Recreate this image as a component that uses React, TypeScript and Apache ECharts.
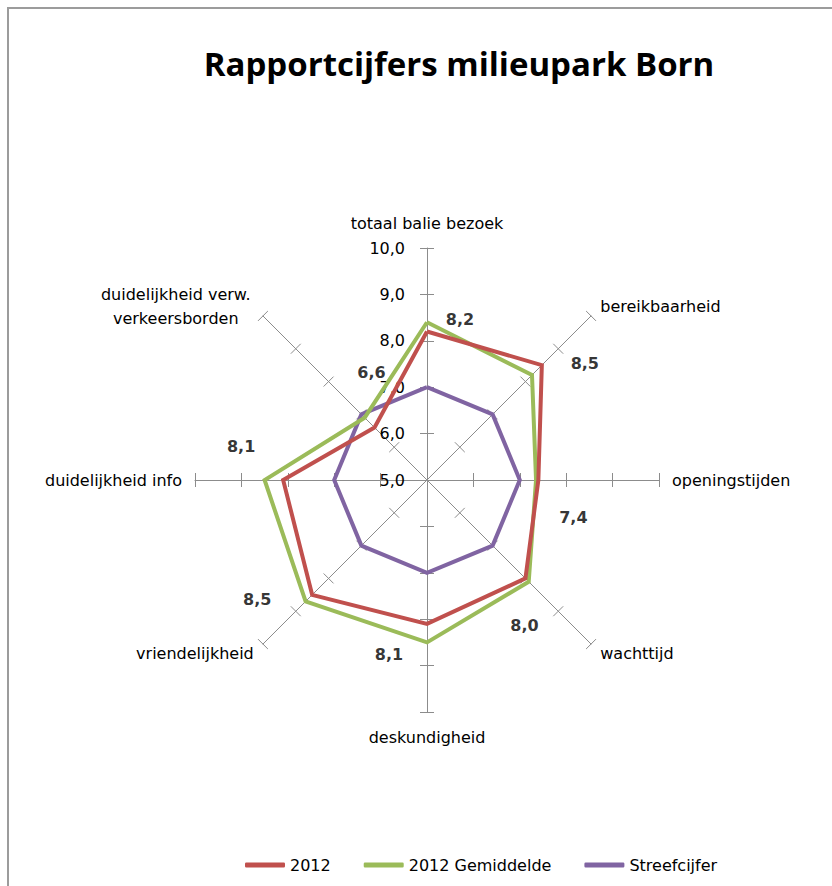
import React, { useEffect, useRef } from 'react';
import * as echarts from 'echarts';

// Rating categories, listed clockwise starting at the top spoke
const categories = [
  'totaal balie bezoek',
  'bereikbaarheid',
  'openingstijden',
  'wachttijd',
  'deskundigheid',
  'vriendelijkheid',
  'duidelijkheid info',
  'duidelijkheid verw.\nverkeersborden',
];

const scores2012 = [8.2, 8.5, 7.4, 8.0, 8.1, 8.5, 8.1, 6.6];
const average2012 = [8.4, 8.2, 7.35, 8.1, 8.5, 8.7, 8.5, 6.9];
const targetScores = [7.0, 7.0, 7.0, 7.0, 7.0, 7.0, 7.0, 7.0];

const seriesNames = ['2012', '2012 Gemiddelde', 'Streefcijfer'];
const seriesColors = ['#C0504D', '#9BBB59', '#8064A2'];

const scaleMin = 5;
const scaleMax = 10;
const scaleSplits = 5;

// Offsets of the value labels from their vertex, per category
const labelOffsets: [number, number][] = [
  [33, -12],
  [43, -2],
  [35, 37],
  [-1, 47],
  [-38, 31],
  [-55, 5],
  [-42, -34],
  [-3, -55],
];

const CENTER: [number, number] = [427, 480];
const RADIUS = 232;
const TEXT_FONT = '"DejaVu Sans", sans-serif';

const fmt = (v: number) => Number(v).toFixed(1).replace('.', ',');

// radar indicators run counter-clockwise, so reorder the clockwise list
const radarOrder = [0, 7, 6, 5, 4, 3, 2, 1];
const toRadar = (arr: number[]) => radarOrder.map((k) => arr[k]);

export default function App() {
  const ref = useRef<HTMLDivElement>(null);

  useEffect(() => {
    document.body.style.margin = '0';
    if (!ref.current) return;
    const chart = echarts.init(ref.current, undefined, { renderer: 'svg' });

    const axisGray = '#8c8c8c';
    const baseRadar = {
      center: CENTER,
      radius: RADIUS,
      startAngle: 90,
      splitNumber: scaleSplits,
      shape: 'polygon',
      splitLine: { show: false },
      splitArea: { show: false },
    };

    const option = {
      animation: false,
      backgroundColor: '#ffffff',
      title: {
        text: 'Rapportcijfers milieupark Born',
        left: 454,
        textAlign: 'center',
        top: 42,
        textStyle: {
          fontFamily: '"Open Sans", sans-serif',
          fontWeight: 'bold',
          fontSize: 33,
          color: '#000',
        },
      },
      legend: {
        data: seriesNames,
        left: 240,
        top: 852,
        icon: 'roundRect',
        itemWidth: 40,
        itemHeight: 5,
        itemGap: 33,
        textStyle: { fontFamily: TEXT_FONT, fontSize: 16, color: '#000' },
      },
      graphic: [
        {
          type: 'rect',
          shape: { x: 8, y: 8, width: 900, height: 900 },
          style: { fill: 'none', stroke: '#9c9c9c', lineWidth: 2 },
          silent: true,
          z: -1,
        },
      ],
      radar: [
        {
          ...baseRadar,
          indicator: radarOrder.map((k, j) => ({
            name: categories[k],
            min: scaleMin,
            max: scaleMax,
            axisLabel: { show: j === 0 },
          })),
          nameGap: 13,
          axisName: {
            color: '#000',
            fontFamily: TEXT_FONT,
            fontSize: 16,
            lineHeight: 24,
            formatter: (name: string) =>
              name.includes('\n')
                ? name
                    .split('\n')
                    .map((line) => `{c|${line}}`)
                    .join('\n')
                : name,
            rich: {
              c: {
                width: 156,
                align: 'center',
                color: '#000',
                fontFamily: TEXT_FONT,
                fontSize: 16,
                lineHeight: 24,
              },
            },
          },
          axisLine: { show: true, lineStyle: { color: axisGray, width: 1 } },
          axisTick: { show: true, length: 7, lineStyle: { color: axisGray, width: 1 } },
          axisLabel: {
            show: true,
            formatter: (v: number) => fmt(v),
            color: '#000',
            fontFamily: TEXT_FONT,
            fontSize: 16,
            margin: 22,
          },
        },
        {
          // second set of ticks on the opposite side, so each tick crosses its spoke
          ...baseRadar,
          indicator: radarOrder.map((k) => ({
            name: categories[k],
            min: scaleMin,
            max: scaleMax,
          })),
          axisName: { show: false },
          axisLine: { show: false },
          axisLabel: { show: false },
          axisTick: { show: true, length: -7, lineStyle: { color: axisGray, width: 1 } },
        },
      ],
      polar: { center: CENTER, radius: RADIUS },
      angleAxis: {
        type: 'category',
        data: categories,
        startAngle: 90,
        clockwise: true,
        boundaryGap: false,
        show: false,
      },
      radiusAxis: { type: 'value', min: scaleMin, max: scaleMax, show: false },
      series: [
        ...[scores2012, average2012, targetScores].map((vals, s) => ({
          type: 'radar',
          radarIndex: 0,
          name: seriesNames[s],
          symbol: 'none',
          z: 3 - s,
          itemStyle: { color: seriesColors[s] },
          lineStyle: { color: seriesColors[s], width: 4, join: 'miter' },
          data: [{ name: seriesNames[s], value: toRadar(vals) }],
        })),
        {
          type: 'scatter',
          name: 'waarden',
          coordinateSystem: 'polar',
          symbolSize: 1,
          itemStyle: { color: 'rgba(0,0,0,0)' },
          z: 10,
          label: {
            show: true,
            position: 'inside',
            formatter: (p: any) => fmt(p.value[0]),
            color: '#000',
            fontFamily: TEXT_FONT,
            fontWeight: 'bold',
            fontSize: 16,
          },
          data: scores2012.map((v, i) => ({
            value: [v, i],
            label: { offset: labelOffsets[i] },
          })),
        },
      ],
    };

    chart.setOption(option as any);
    return () => chart.dispose();
  }, []);

  return <div ref={ref} style={{ width: 832, height: 886 }} />;
}
